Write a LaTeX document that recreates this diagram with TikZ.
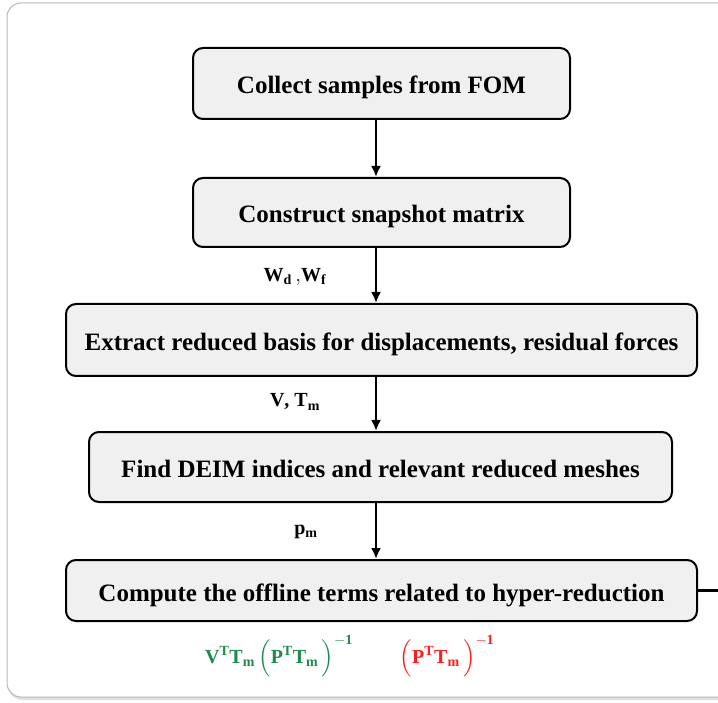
\documentclass[tikz,border=0pt]{standalone}
\usepackage{fontspec}
\setmainfont{Liberation Serif}
\usepackage{amsmath}
\usepackage{tikz}
\usetikzlibrary{positioning,arrows,arrows.meta,calc}
\definecolor{boxgray}{HTML}{F0F0F0}
\definecolor{framegray}{HTML}{B8B8B8}
\definecolor{termgreen}{HTML}{1E8B4C}
\definecolor{termred}{HTML}{FF1E1E}

\begin{document}
\begin{tikzpicture}[>={Latex[length=11pt,width=10pt]},x=1pt,y=-1pt,semithick,
    stepbox/.style={draw=black,line width=2pt,fill=boxgray,rounded corners=10pt,inner sep=0pt,
      text height=21pt,text depth=0pt,font=\fontsize{25}{28}\selectfont\bfseries},
    varlabel/.style={font=\fontsize{20}{24}\selectfont},
    flow/.style={->,line width=2.6pt}]
        \useasboundingbox (0,0) rectangle (718,703);
        \clip (0,0) rectangle (718,703);
        % outer frame
        \fill [black!12,rounded corners=14pt] (8,5) rectangle (760,700);
        \draw [framegray,line width=1pt,fill=white,rounded corners=14pt] (7,3) rectangle (760,697);
        \node [stepbox,minimum width=377,minimum height=71] (collect) at (381.5,83.5) {Collect samples from FOM};
        \node [stepbox,minimum width=377,minimum height=69] (snapshot) at (381.5,212.5) {Construct snapshot matrix};
        \node [stepbox,minimum width=631,minimum height=72] (basis) at (381.5,340) {Extract reduced basis for displacements, residual forces};
        \node [stepbox,minimum width=583,minimum height=70] (deim) at (380.5,467) {Find DEIM indices and relevant reduced meshes};
        \node [stepbox,minimum width=631,minimum height=61] (offline) at (381.5,590.5) {Compute the offline terms related to hyper-reduction};
        \coordinate (ax) at (376,0);
        \coordinate (exit) at (718,590.5);
        \draw [flow] (collect.south -| ax) -- (snapshot.north -| ax);
        \draw [flow] (snapshot.south -| ax) -- (basis.north -| ax);
        \draw [flow] (basis.south -| ax) -- (deim.north -| ax);
        \draw [flow] (deim.south -| ax) -- (offline.north -| ax);
        \draw [line width=2.6pt] (offline.east) -- (exit);
        % data passed between steps
        \node [varlabel] (wdwf) at (295,277) {$\mathbf{W}_{\mathbf{d}}\,\mathbf{,}\mathbf{W}_{\mathbf{f}}$};
        \node [varlabel] (vtm) at (295,402) {$\mathbf{V}$\textbf{, }$\mathbf{T}_{\mathbf{m}}$};
        \node [varlabel] (pm) at (306,532) {$\mathbf{p}_{\mathbf{m}}$};
        \node [varlabel,text=termgreen] (greenterm) at (279,656) {$\mathbf{V}^{\mathbf{T}}\mathbf{T}_{\mathbf{m}}\,\Bigl(\mathbf{P}^{\mathbf{T}}\mathbf{T}_{\mathbf{m}}\,\Bigr)^{\mathbf{-1}}$};
        \node [varlabel,text=termred] (redterm) at (447,656) {$\Bigl(\mathbf{P}^{\mathbf{T}}\mathbf{T}_{\mathbf{m}}\,\Bigr)^{\mathbf{-1}}$};
    \end{tikzpicture}
\end{document}
